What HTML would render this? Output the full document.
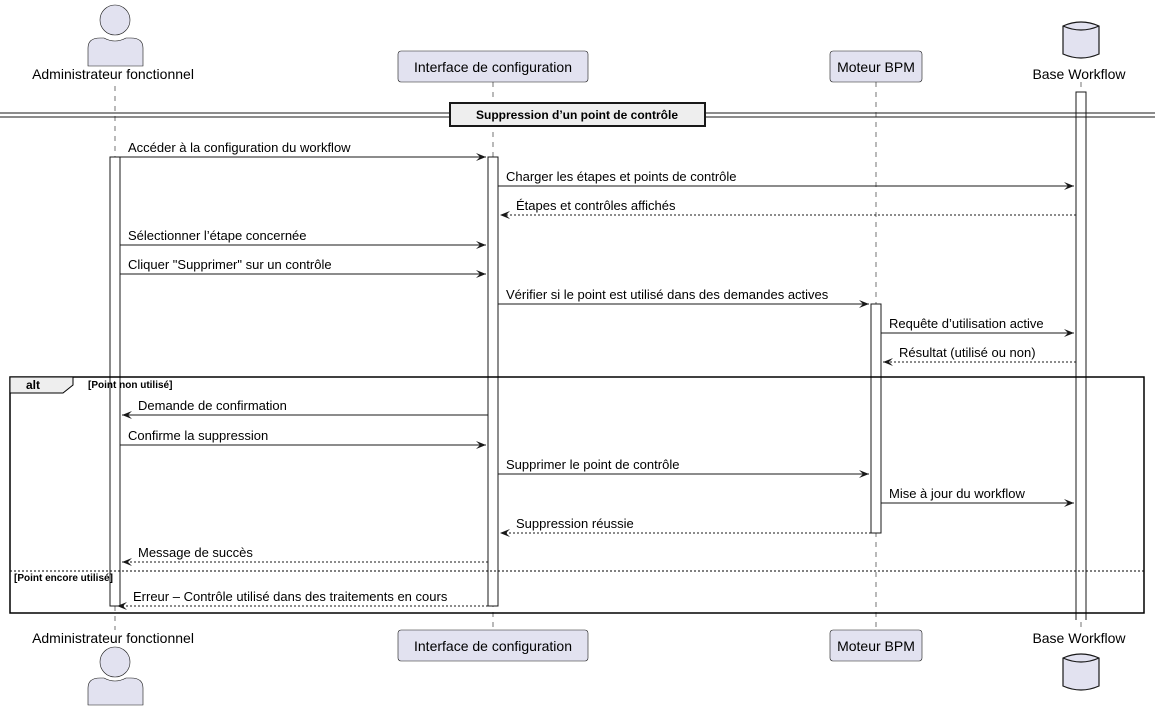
<!DOCTYPE html>
<html><head><meta charset="utf-8"><style>
html,body{margin:0;padding:0;background:#fff;}
svg{display:block;font-family:"Liberation Sans",sans-serif;}
</style></head><body>
<svg width="1160" height="713" viewBox="0 0 1160 713" xmlns="http://www.w3.org/2000/svg">
<defs>
<marker id="a" markerWidth="12" markerHeight="10" refX="10" refY="4" orient="auto" markerUnits="userSpaceOnUse">
<polygon points="0,0 10,4 0,8 4,4" fill="#181818"/></marker>
</defs>
<g stroke="#181818" stroke-width="0.6" stroke-dasharray="5,5">
<line x1="115" y1="86" x2="115" y2="630"/>
<line x1="493" y1="82" x2="493" y2="630"/>
<line x1="876" y1="82" x2="876" y2="630"/>
<line x1="1081" y1="82" x2="1081" y2="630"/>
</g>
<!-- actors -->
<g fill="#E2E2F0" stroke="#181818" stroke-width="0.6">
<circle cx="115" cy="20" r="15"/>
<path d="M88,66 L88,48 Q88,38 100,38 L104,38 Q115,44 126,38 L131,38 Q143,38 143,48 L143,66 Z"/>
<circle cx="115" cy="662" r="15"/>
<path d="M88,705 L88,688 Q88,678 100,678 L104,678 Q115,684 126,678 L131,678 Q143,678 143,688 L143,705 Z"/>
<rect x="398" y="51" width="190" height="31" rx="3"/>
<rect x="830" y="51" width="92" height="31" rx="3"/>
<rect x="398" y="630" width="190" height="31" rx="3"/>
<rect x="830" y="630" width="92" height="31" rx="3"/>
<path d="M1063,26 L1063,54 Q1081,62 1099,54 L1099,26 Q1081,18 1063,26 Z" stroke-width="1.2"/>
<path d="M1063,26 Q1081,34 1099,26" fill="none" stroke-width="1.2"/>
<path d="M1063,658 L1063,686 Q1081,694 1099,686 L1099,658 Q1081,650 1063,658 Z" stroke-width="1.2"/>
<path d="M1063,658 Q1081,666 1099,658" fill="none" stroke-width="1.2"/>
</g>
<g font-size="14" fill="#000" text-anchor="middle">
<text x="113" y="79">Administrateur fonctionnel</text>
<text x="493" y="72">Interface de configuration</text>
<text x="876" y="72">Moteur BPM</text>
<text x="1079" y="79">Base Workflow</text>
<text x="113" y="643">Administrateur fonctionnel</text>
<text x="493" y="651">Interface de configuration</text>
<text x="876" y="651">Moteur BPM</text>
<text x="1079" y="643">Base Workflow</text>
</g>
<!-- activations -->
<g fill="#fff" stroke="#181818" stroke-width="1">
<path d="M1076,620 L1076,92 L1086,92 L1086,620"/>
<rect x="110" y="157" width="10" height="449"/>
<rect x="488" y="157" width="10" height="449"/>
<rect x="871" y="304" width="10" height="229"/>
</g>
<!-- divider -->
<line x1="0" y1="113" x2="1155" y2="113" stroke="#181818" stroke-width="1"/>
<line x1="0" y1="117" x2="1155" y2="117" stroke="#181818" stroke-width="1"/>
<rect x="450" y="103" width="255" height="23" fill="#EEEEEE" stroke="#181818" stroke-width="2"/>
<text x="577" y="119" font-size="12" font-weight="bold" text-anchor="middle">Suppression d’un point de contrôle</text>
<!-- alt frame -->
<rect x="10" y="377" width="1134" height="236" fill="none" stroke="#000" stroke-width="1.5"/>
<polygon points="10,377 73,377 73,385 63,393 10,393" fill="#EEEEEE" stroke="#000" stroke-width="1"/>
<text x="26" y="389" font-size="12" font-weight="bold">alt</text>
<text x="88" y="388" font-size="10" font-weight="bold">[Point non utilisé]</text>
<line x1="10" y1="571" x2="1144" y2="571" stroke="#000" stroke-width="1" stroke-dasharray="2,2"/>
<text x="14" y="581" font-size="10" font-weight="bold">[Point encore utilisé]</text>
<!-- messages -->
<g stroke="#181818" stroke-width="1" marker-end="url(#a)">
<line x1="120" y1="157" x2="486" y2="157"/>
<line x1="498" y1="186" x2="1074" y2="186"/>
<line x1="1076" y1="215" x2="500" y2="215" stroke-dasharray="2,2"/>
<line x1="120" y1="245" x2="486" y2="245"/>
<line x1="120" y1="274" x2="486" y2="274"/>
<line x1="498" y1="304" x2="869" y2="304"/>
<line x1="881" y1="333" x2="1074" y2="333"/>
<line x1="1076" y1="362" x2="883" y2="362" stroke-dasharray="2,2"/>
<line x1="488" y1="415" x2="122" y2="415"/>
<line x1="120" y1="445" x2="486" y2="445"/>
<line x1="498" y1="474" x2="869" y2="474"/>
<line x1="881" y1="503" x2="1074" y2="503"/>
<line x1="871" y1="533" x2="500" y2="533" stroke-dasharray="2,2"/>
<line x1="488" y1="562" x2="122" y2="562" stroke-dasharray="2,2"/>
<line x1="488" y1="606" x2="117" y2="606" stroke-dasharray="2,2"/>
</g>
<g font-size="13" fill="#000">
<text x="128" y="152">Accéder à la configuration du workflow</text>
<text x="506" y="181">Charger les étapes et points de contrôle</text>
<text x="516" y="210">Étapes et contrôles affichés</text>
<text x="128" y="240">Sélectionner l’étape concernée</text>
<text x="128" y="269">Cliquer "Supprimer" sur un contrôle</text>
<text x="506" y="299">Vérifier si le point est utilisé dans des demandes actives</text>
<text x="889" y="328">Requête d’utilisation active</text>
<text x="899" y="357">Résultat (utilisé ou non)</text>
<text x="138" y="410">Demande de confirmation</text>
<text x="128" y="440">Confirme la suppression</text>
<text x="506" y="469">Supprimer le point de contrôle</text>
<text x="889" y="498">Mise à jour du workflow</text>
<text x="516" y="528">Suppression réussie</text>
<text x="138" y="557">Message de succès</text>
<text x="133" y="601">Erreur – Contrôle utilisé dans des traitements en cours</text>
</g>
</svg>
</body></html>
